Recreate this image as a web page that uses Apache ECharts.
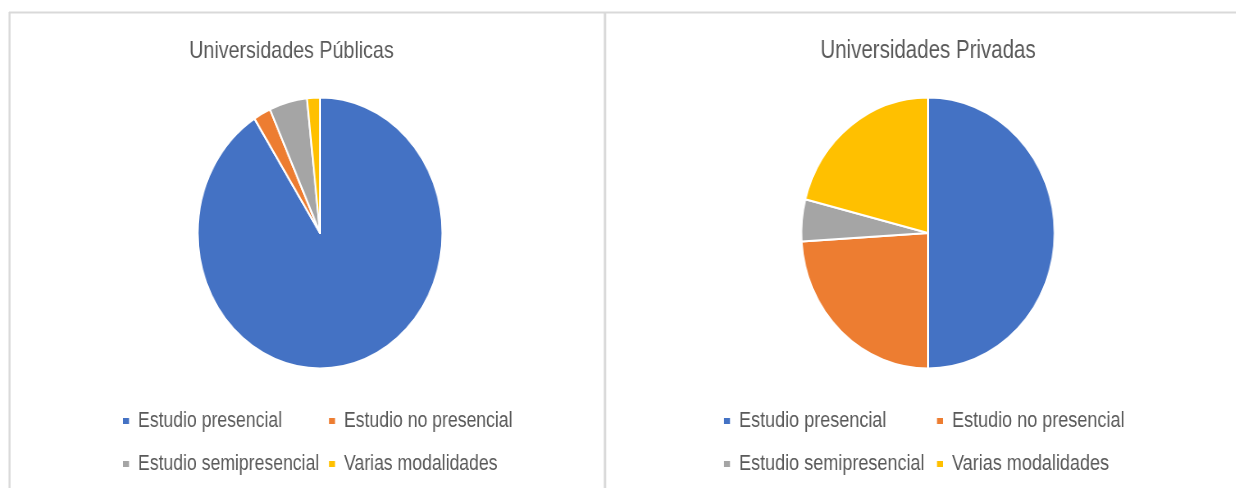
<!DOCTYPE html>
<html>
<head>
<meta charset="utf-8">
<script src="https://cdn.jsdelivr.net/npm/echarts@6/dist/echarts.min.js"></script>
<style>
  html, body { margin:0; padding:0; background:#fff; }
  #wrap { position:relative; width:1236px; height:488px; overflow:hidden; }
  /* el texto original es angosto: se comprime la capa de textos */
  #base { position:absolute; left:0; top:0; width:1507px; height:488px; transform:scaleX(0.82); transform-origin:0 0; }
  /* los graficos de torta salen achatados en la imagen original */
  #pieL { position:absolute; left:169.5px; top:82.5px; width:300px; height:300px; transform:scaleX(0.903); }
  #pieR { position:absolute; left:777.5px; top:82.5px; width:300px; height:300px; transform:scaleX(0.935); }
</style>
</head>
<body>
<div id="wrap">
  <div id="base"></div>
  <div id="pieL"></div>
  <div id="pieR"></div>
</div>
<script>
var categorias = ['Estudio presencial', 'Estudio no presencial', 'Estudio semipresencial', 'Varias modalidades'];
var publicas = [91, 2.3, 5, 1.7];
var privadas = [50, 24, 5, 21];
var titulos = ['Universidades Públicas', 'Universidades Privadas'];

var colores = ['#4472C4', '#ED7D31', '#A5A5A5', '#FFC000'];
var fuente = '"Liberation Sans", Arial, sans-serif';
var gris = '#595959';
var k = 0.82; // compresion horizontal de la capa base

function armarDatos(valores){
	var d = [];
	for (var i = 0; i < categorias.length; i++) {
		d.push({ name: categorias[i], value: valores[i] });
	}
	return d;
}

function leyenda(nombres, x, tam){
	return {
		orient: 'vertical',
		left: x / k, top: 410,
		padding: 0,
		itemWidth: 6 / k, itemHeight: 6, itemGap: 21,
		icon: 'rect',
		data: nombres,
		selectedMode: false,
		textStyle: { color: gris, fontSize: tam, fontFamily: fuente, padding: [0, 0, 0, 9 / k - 5] }
	};
}

var base = echarts.init(document.getElementById('base'));
base.setOption({
	color: colores,
	animation: false,
	title: [
		{ text: titulos[0], left: 291.5 / k, top: 39, textAlign: 'center', padding: 0,
		  textStyle: { color: gris, fontSize: 24, fontWeight: 'normal', fontFamily: fuente } },
		{ text: titulos[1], left: 928 / k, top: 39, textAlign: 'center', padding: 0,
		  textStyle: { color: gris, fontSize: 25, fontWeight: 'normal', fontFamily: fuente } }
	],
	legend: [
		leyenda([categorias[0], categorias[2]], 123, 21.5),
		leyenda([categorias[1], categorias[3]], 329, 21.5),
		leyenda([categorias[0], categorias[2]], 724, 22),
		leyenda([categorias[1], categorias[3]], 937, 22)
	],
	graphic: [
		{ type: 'line', shape: { x1: 9 / k, y1: 12.5, x2: 1236 / k, y2: 12.5 }, style: { stroke: '#d9d9d9', lineWidth: 2 }, silent: true },
		{ type: 'line', shape: { x1: 9.5 / k, y1: 12, x2: 9.5 / k, y2: 488 }, style: { stroke: '#d9d9d9', lineWidth: 2 / k }, silent: true },
		{ type: 'line', shape: { x1: 605 / k, y1: 12, x2: 605 / k, y2: 488 }, style: { stroke: '#d9d9d9', lineWidth: 2.5 / k }, silent: true }
	],
	// series sin radio: solo alimentan la leyenda
	series: [
		{ type: 'pie', radius: 0, center: [319 / k, 233], label: { show: false }, labelLine: { show: false }, data: armarDatos(publicas) },
		{ type: 'pie', radius: 0, center: [928 / k, 233], label: { show: false }, labelLine: { show: false }, data: armarDatos(privadas) }
	]
});

function torta(id, valores){
	var ch = echarts.init(document.getElementById(id));
	ch.setOption({
		color: colores,
		animation: false,
		series: [{
			type: 'pie',
			radius: 135.5,
			center: ['50%', '50%'],
			startAngle: 90,
			clockwise: true,
			label: { show: false },
			labelLine: { show: false },
			itemStyle: { borderColor: '#fff', borderWidth: 2 },
			data: armarDatos(valores)
		}]
	});
	return ch;
}

var tortaPub = torta('pieL', publicas);
var tortaPriv = torta('pieR', privadas);
</script>
</body>
</html>
